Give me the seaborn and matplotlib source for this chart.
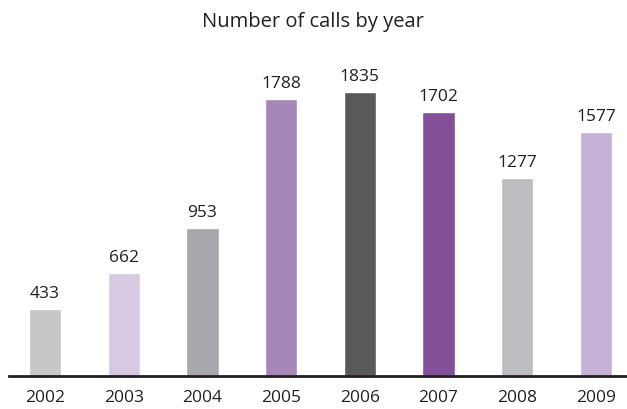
import matplotlib
matplotlib.use("Agg")
import matplotlib.pyplot as plt
import seaborn as sns
import pandas as pd

years = ["2002", "2003", "2004", "2005", "2006", "2007", "2008", "2009"]
calls = [433, 662, 953, 1788, 1835, 1702, 1277, 1577]
bar_colors = ["#c6c7c9", "#d8c9e2", "#a7a8ab", "#a786b9",
              "#58595b", "#834f98", "#bcbdc0", "#c5b1d5"]

sns.set_theme(style="white")
plt.rcParams["font.family"] = ["Open Sans", "DejaVu Sans"]
ink = "#231f20"

df = pd.DataFrame({"year": years, "calls": calls})

fig = plt.figure(figsize=(6.27, 4.09), dpi=100)
ax = fig.add_axes([9 / 627, 33 / 409, 618 / 627, 326 / 409])

sns.barplot(data=df, x="year", y="calls", hue="year",
            palette=dict(zip(years, bar_colors)), width=0.41,
            saturation=1, legend=False, ax=ax)

for container in ax.containers:
    ax.bar_label(container, fmt="%d", padding=5, fontsize=12.5, color=ink)

ax.set_xlim(-0.457, 7.394)
ax.set_ylim(0, 2103)
ax.set_xlabel("")
ax.set_ylabel("")
ax.set_yticks([])
ax.tick_params(axis="x", length=0, pad=10, labelsize=12.5, labelcolor=ink)

for side in ["left", "right", "top"]:
    ax.spines[side].set_visible(False)
ax.spines["bottom"].set_color(ink)
ax.spines["bottom"].set_linewidth(2)

fig.text(313 / 627, 1 - 22 / 409, "Number of calls by year",
         ha="center", va="center", fontsize=14.5, color=ink)

fig.savefig("out.png", dpi=100)
